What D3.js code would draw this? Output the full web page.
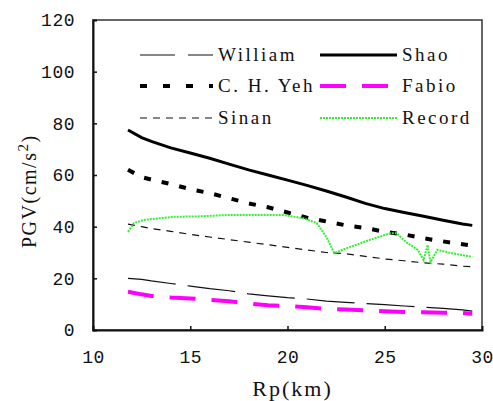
<!DOCTYPE html>
<html>
<head>
<meta charset="utf-8">
<script src="https://cdn.jsdelivr.net/npm/d3@7"></script>
<style>
  body { margin: 0; background: #fff; }
  text { font-family: "Liberation Serif", serif; fill: #111; }
</style>
</head>
<body>
<div id="viz"></div>
<script>
// data
var xTicks = [10, 15, 20, 25, 30];
var yTicks = [0, 20, 40, 60, 80, 100, 120];

var rp = [11.8, 12.5, 13, 14, 15, 16, 17, 18, 19, 20, 21, 22, 23, 24, 25, 26, 27, 28, 29, 29.5];
var william = [20, 19.6, 19, 18, 17, 16, 15.2, 14, 13.2, 12.5, 12, 11.2, 10.7, 10.2, 9.8, 9.3, 8.8, 8.4, 7.8, 7.3];
var yeh = [62, 59.2, 58.2, 56.5, 54.5, 53, 51, 49, 47.5, 45.5, 43.5, 42, 40.5, 39.5, 38, 37, 35.5, 34.3, 33.2, 32.7];
var sinan = [41, 40, 39.3, 38.2, 37, 36, 35, 34, 33, 32, 31, 30, 29.5, 28.5, 27.5, 26.8, 26, 25.5, 24.7, 24.5];
var shao = [77.4, 74.5, 73, 70.5, 68.5, 66.5, 64.2, 62, 60, 58, 56, 53.8, 51.5, 49, 47, 45.5, 44, 42.5, 41, 40.5];
var fabio = [14.8, 13.8, 13.2, 12.6, 12.2, 11.7, 11.1, 10.2, 9.6, 9.3, 8.8, 8.2, 7.9, 7.6, 7.3, 7, 6.9, 6.7, 6.6, 6.3];

var recordX = [11.8, 12.1, 12.6, 14.1, 15.5, 16.9, 18.5, 19.8, 20.8, 21.5, 22.0, 22.4, 23.2, 24.2, 25.3, 25.6, 26.1, 26.7, 27.0, 27.2, 27.35, 27.7, 28.4, 29.0, 29.5];
var recordY = [38, 41.4, 42.6, 43.8, 44, 44.5, 44.5, 44.5, 43.3, 41.4, 36, 29.8, 32.1, 34.8, 37.5, 37.5, 34, 31, 27, 32.9, 26.3, 31, 29.8, 29, 28.3];

// set the dimensions and margins of the graph
var margin = { top: 20, right: 11, bottom: 71, left: 93 },
    width = 493 - margin.left - margin.right,
    height = 401 - margin.top - margin.bottom;

var svg = d3.select("#viz")
  .append("svg")
  .attr("width", 493)
  .attr("height", 401)
  .append("g")
  .attr("transform", "translate(" + margin.left + "," + margin.top + ")");

var xScale = d3.scaleLinear().domain([10, 30]).range([0, width]),
    yScale = d3.scaleLinear().domain([0, 120]).range([height, 0]);

// frame
svg.append("rect")
  .attr("width", width)
  .attr("height", height)
  .attr("fill", "none")
  .attr("stroke", "#333")
  .attr("stroke-width", 1.5);

// axes, ticks inward
var xAxis = d3.axisBottom(xScale).tickValues(xTicks).tickSize(-4).tickPadding(20).tickFormat(d3.format("d"));
var yAxis = d3.axisLeft(yScale).tickValues(yTicks).tickSize(-4).tickPadding(18).tickFormat(d3.format("d"));

var gx = svg.append("g")
  .attr("transform", "translate(0," + height + ")")
  .call(xAxis);
var gy = svg.append("g").call(yAxis);

[gx, gy].forEach(g => {
  g.select(".domain").attr("stroke", "#111").attr("stroke-width", 2);
  g.selectAll(".tick line").attr("stroke", "#111").attr("stroke-width", 1.5);
  g.selectAll(".tick text")
    .style("font-family", "'Liberation Mono', monospace")
    .style("font-size", "18px")
    .style("letter-spacing", "0.5px")
    .attr("fill", "#222");
});
gx.selectAll(".tick").filter(d => d == 10 || d == 30).select("line").remove();
gy.selectAll(".tick").filter(d => d == 0 || d == 120).select("line").remove();

// axis labels
svg.append("text")
  .attr("x", xScale(20) + 5)
  .attr("y", height + 66)
  .style("text-anchor", "middle")
  .style("font-size", "22px")
  .style("letter-spacing", "2px")
  .text("Rp(km)");

// y label: start it at the bottom end, rotated
var yl = svg.append("text")
  .attr("transform", "rotate(-90)")
  .attr("x", 0 - (248 - margin.top))
  .attr("y", 36 - margin.left)
  .style("text-anchor", "start")
  .style("font-size", "20px")
  .style("letter-spacing", "1.5px");
yl.append("tspan").text("PGV(cm/s");
yl.append("tspan").attr("dy", -8).style("font-size", "15px").text("2");
yl.append("tspan").attr("dy", 8).text(")");

// series
var series = [
  { name: "William", x: rp, y: william, color: "#111", w: 1.2, dash: "48,12" },
  { name: "C.H.Yeh", x: rp, y: yeh, color: "#000", w: 4, dash: "7,11" },
  { name: "Sinan", x: rp, y: sinan, color: "#111", w: 1.2, dash: "7,6" },
  { name: "Shao", x: rp, y: shao, color: "#000", w: 3, dash: null },
  { name: "Fabio", x: rp, y: fabio, color: "#ff00ff", w: 4, dash: "26,16" },
  { name: "Record", x: recordX, y: recordY, color: "#33ee33", w: 2, dash: "2,1" }
];

var drawLine = d3.line()
  .x(d => xScale(d[0]))
  .y(d => yScale(d[1]));

series.forEach(s => {
  svg.append("path")
    .datum(s.x.map((v, i) => [v, s.y[i]]))
    .attr("fill", "none")
    .attr("stroke", s.color)
    .attr("stroke-width", s.w)
    .attr("stroke-dasharray", s.dash)
    .attr("d", drawLine);
});

// legend
var legendRows = [35, 66, 98];
series.forEach((s, i) => {
  var col = i < 3 ? 0 : 1, row = i % 3;
  var x0 = col == 0 ? 47 : 227;
  var len = col == 0 ? 73 : 77;
  var g = svg.append("g").attr("transform", "translate(" + x0 + "," + legendRows[row] + ")");
  g.append("line")
    .attr("x1", 0).attr("x2", len)
    .attr("stroke", s.color)
    .attr("stroke-width", s.w)
    .attr("stroke-dasharray", s.name == "William" ? "35,13" : s.name == "C.H.Yeh" ? "7,16" : s.dash);
  g.append("text")
    .attr("x", len + 5)
    .attr("y", 6)
    .style("font-size", "19px")
    .style("letter-spacing", "2.5px")
    .text(s.name == "C.H.Yeh" ? "C. H. Yeh" : s.name);
});
</script>
</body>
</html>
